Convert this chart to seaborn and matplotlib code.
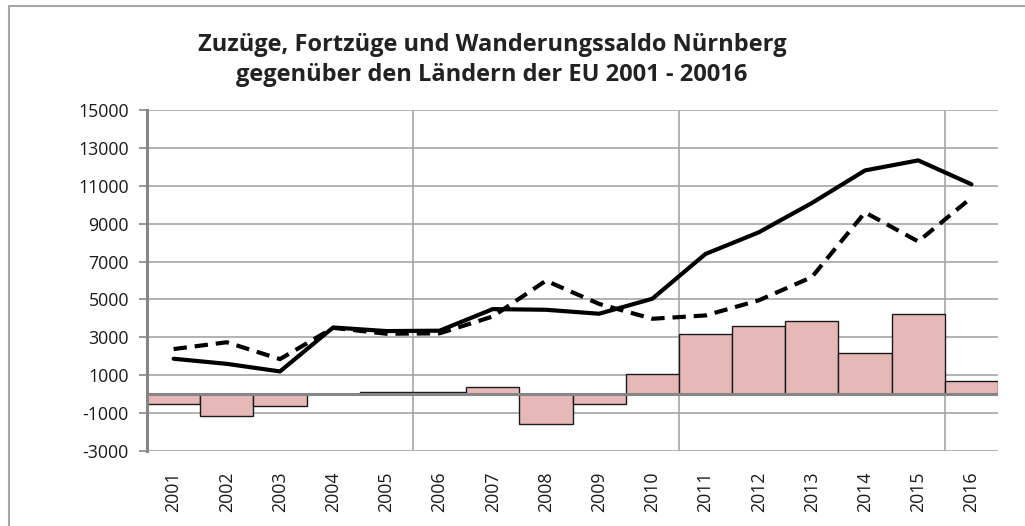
import matplotlib
matplotlib.use("Agg")
import matplotlib.pyplot as plt
import seaborn as sns
import numpy as np
import pandas as pd
from matplotlib.patches import Rectangle

years = ["2001", "2002", "2003", "2004", "2005", "2006", "2007", "2008",
         "2009", "2010", "2011", "2012", "2013", "2014", "2015", "2016"]
zuzuege = [1870, 1600, 1200, 3520, 3330, 3350, 4490, 4455,
           4245, 5035, 7400, 8540, 10090, 11810, 12340, 11080]
fortzuege = [2380, 2740, 1850, 3500, 3190, 3210, 4100, 5990,
             4765, 3980, 4155, 4950, 6180, 9595, 8060, 10370]
saldo = [-510, -1140, -610, 0, 140, 140, 390, -1560,
         -520, 1090, 3190, 3600, 3840, 2150, 4245, 710]
yticks = list(range(-3000, 15001, 2000))
title = "Zuzüge, Fortzüge und Wanderungssaldo Nürnberg\ngegenüber den Ländern der EU 2001 - 20016"

sns.set_theme(style="white")
plt.rcParams['font.family'] = ['Open Sans', 'DejaVu Sans']

fig = plt.figure(figsize=(10.25, 5.26), dpi=100)
ax = fig.add_axes([147/1025, 1-451/526, (998-147)/1025, (451-110)/526])

# outer chart border
fig.patches.append(Rectangle((9/1025, -0.1), 1.2, (1-6/526)+0.1, transform=fig.transFigure,
                             fill=False, edgecolor="#a6a6a6", linewidth=1.5, zorder=0))

df = pd.DataFrame({"pos": np.arange(len(years)), "year": years,
                   "zu": zuzuege, "fort": fortzuege, "saldo": saldo})

sns.barplot(data=df, x="year", y="saldo", ax=ax, width=1.0, color="#e6b9b8",
            saturation=1, edgecolor="#1a1a1a", linewidth=1.0, zorder=2)
sns.lineplot(data=df, x="pos", y="zu", ax=ax, color="black", linewidth=3.0, zorder=4)
sns.lineplot(data=df, x="pos", y="fort", ax=ax, color="black", linewidth=3.0,
             linestyle=(0, (3.2, 1.9)), zorder=4)

ax.set_xlim(-0.5, len(years) - 0.5)
ax.set_ylim(-3000, 15000)
ax.set_yticks(yticks)
ax.set_yticklabels([str(t) for t in yticks])
ax.set_xticks(np.arange(len(years)))
ax.set_xticklabels(years, rotation=90)
ax.set_xlabel("")
ax.set_ylabel("")

ax.grid(axis="y", color="#a6a6a6", linewidth=1.2, zorder=0)
ax.set_axisbelow(True)
ax.set_xticks([4.5, 9.5, 14.5], minor=True)
ax.grid(axis="x", which="minor", color="#a6a6a6", linewidth=1.2)
ax.axhline(0, color="#868686", linewidth=2.2, zorder=3)

for s in ["top", "right", "bottom"]:
    ax.spines[s].set_visible(False)
ax.spines["left"].set_color("#868686")
ax.spines["left"].set_linewidth(2.2)

ax.tick_params(axis="y", which="major", length=6, width=1.2, color="#868686",
               pad=7, labelsize=12.8, labelcolor="#1a1a1a", left=True)
ax.tick_params(axis="x", which="major", length=0, pad=15, labelsize=12.8, labelcolor="#1a1a1a")
ax.tick_params(axis="x", which="minor", length=0)

fig.text(492/1025, 1-60/526, title, ha="center", va="center", fontsize=17,
         fontweight="bold", color="#222222", linespacing=1.35)

fig.savefig("out.png", dpi=100)
